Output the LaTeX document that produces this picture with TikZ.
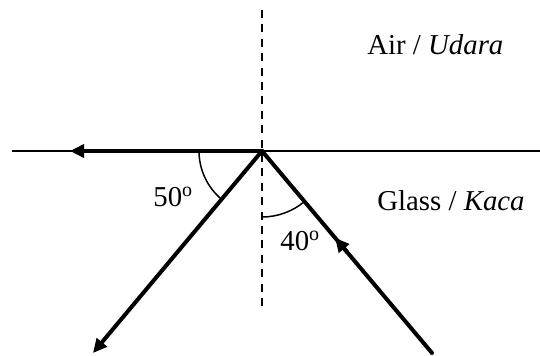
\documentclass[tikz,border=0pt]{standalone}
\usepackage{fontspec}
\setmainfont{Liberation Serif}
\usetikzlibrary{arrows.meta,positioning,calc}
\tikzset{ray/.style={line width=2pt,line cap=round},
  rayarrow/.style={ray,-{Triangle[length=7pt,width=6.5pt]}},
  surface/.style={line width=1pt},
  normal/.style={line width=1pt,dash pattern=on 4pt off 3.2pt},
  anglearc/.style={line width=0.75pt},
  labeltext/.style={font=\fontsize{14.4}{17}\selectfont,inner sep=0pt}}

\begin{document}
\begin{tikzpicture}[x=0.5pt, y=-0.5pt]
\useasboundingbox (0,0) rectangle (540,356);
\coordinate (o) at (262,151);
\coordinate (sl) at (12,151);
\coordinate (sr) at (540,151);
\coordinate (nt) at (262,10);
\coordinate (nb) at (262,312);
\coordinate (inc) at (432,353);
\coordinate (refl) at (70,151);
\coordinate (refr) at (93,353);
% boundary and normal
\draw[surface] (sl) -- (sr);
\draw[normal] (nt) -- (nb);
% rays
\draw[rayarrow] (o) -- (refl);
\draw[rayarrow] (o) -- (refr);
\draw[rayarrow] (inc) -- ($(inc)!0.57!(o)$);
\draw[ray] ($(inc)!0.5!(o)$) -- (o);
% angles
\draw[anglearc] ($(o)+(-63,0)$) arc[start angle=180, end angle=130, radius=63];
\draw[anglearc] ($(o)+(0,66)$) arc[start angle=90, end angle=50, radius=66];
\node[labeltext, anchor=base west] (a50) at (153,207) {50\textsuperscript{o}};
\node[labeltext, anchor=base west] (a40) at (280,251) {40\textsuperscript{o}};
\node[labeltext, anchor=base west] (air) at (367,55) {Air / \textit{Udara}};
\node[labeltext, anchor=base west] (glass) at (377,211) {Glass / \textit{Kaca}};
\end{tikzpicture}
\end{document}
